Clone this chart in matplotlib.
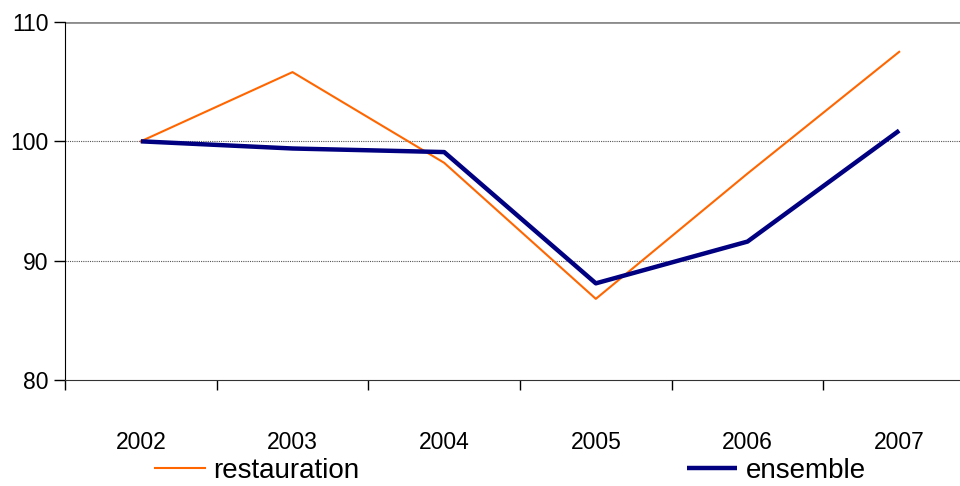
import matplotlib
matplotlib.use('Agg')
import numpy as np
import matplotlib.pyplot as plt

plt.rcParams['font.family'] = ['Liberation Sans', 'DejaVu Sans']

years = ['2002', '2003', '2004', '2005', '2006', '2007']
restauration = [100.0, 105.8, 98.2, 86.8, 97.3, 107.5]
ensemble = [100.0, 99.4, 99.1, 88.1, 91.6, 100.9]

fig = plt.figure(figsize=(9.6, 4.86), dpi=100)
ax = fig.add_axes([65 / 960, 1 - 380 / 486, 910 / 960, 358 / 486])

x = np.arange(len(years))
l1, = ax.plot(x, restauration, color='#ff6600', lw=1.5, label='restauration')
l2, = ax.plot(x, ensemble, color='#000080', lw=3.2, label='ensemble',
              solid_capstyle='butt')

ax.set_xlim(-0.5, len(years) - 0.5)
ax.set_ylim(80, 110)
ax.set_yticks([80, 90, 100, 110])
ax.tick_params(axis='y', labelsize=16.5, length=8, width=1, direction='out', pad=4)

# ticks between categories, labels at category centers
ax.set_xticks(np.arange(len(years) + 1) - 0.5)
ax.set_xticklabels([])
ax.tick_params(axis='x', which='major', length=7, width=1, direction='out')
ax.set_xticks(x, minor=True)
ax.set_xticklabels(years, minor=True)
ax.tick_params(axis='x', which='minor', length=0, labelsize=16.5, pad=37)

for v in [90, 100]:
    ax.axhline(v, color='#555555', lw=0.8, ls=(0, (1, 1)), zorder=0)
ax.axhline(110, color='#8c8c8c', lw=2, zorder=0)

for s in ['top', 'right']:
    ax.spines[s].set_visible(False)
ax.spines['left'].set_color('black')
ax.spines['bottom'].set_color('#333333')

fig.legend(handles=[l1, l2], loc='center left', bbox_to_anchor=(155 / 960, 1 - 471 / 486),
           ncol=2, frameon=False, fontsize=20, handlelength=1.8, handletextpad=0.3,
           columnspacing=11.8, borderpad=0, borderaxespad=0)

fig.savefig('out.png', dpi=100)
